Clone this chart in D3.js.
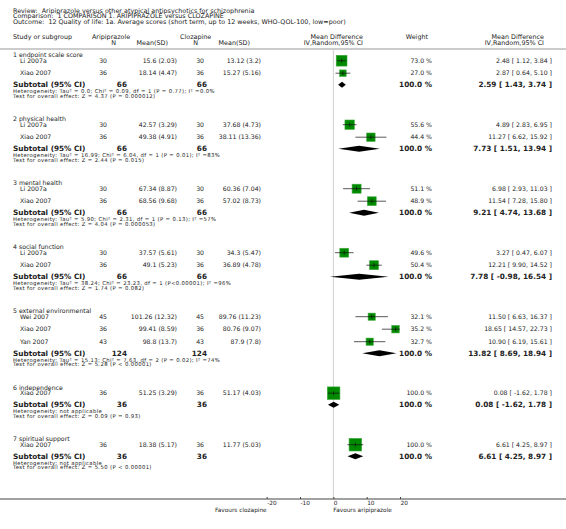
<!DOCTYPE html>
<html><head><meta charset="utf-8">
<script src="https://cdn.jsdelivr.net/npm/d3@7"></script>
<style>
body{margin:0;background:#fff}
svg{display:block}
text{font-family:"DejaVu Sans",Verdana,sans-serif;fill:#222;white-space:pre}
</style>
</head><body><svg id="c" width="566" height="529"></svg>
<script>
// ---------- DATA ----------
const headerLines = [
  "Review:  Aripiprazole versus other atypical antipsychotics for schizophrenia",
  "Comparison:  1 COMPARISON 1. ARIPIPRAZOLE versus CLOZAPINE",
  "Outcome:  12 Quality of life: 1a. Average scores (short term, up to 12 weeks, WHO-QOL-100, low=poor)"
];
const subgroupTitles = ["1 endpoint scale score","2 physical health","3 mental health","4 social function","5 external environmental","6 independence","7 spiritual support"];
const studyGroup = [0,0,1,1,2,2,3,3,4,4,4,5,6];
const studyNames = ["Li 2007a","Xiao 2007","Li 2007a","Xiao 2007","Li 2007a","Xiao 2007","Li 2007a","Xiao 2007","Wei 2007","Xiao 2007","Yan 2007","Xiao 2007","Xiao 2007"];
const ariN = [30,36,30,36,30,36,30,36,45,36,43,36,36];
const ariMeanSD = ["15.6 (2.03)","18.14 (4.47)","42.57 (3.29)","49.38 (4.91)","67.34 (8.87)","68.56 (9.68)","37.57 (5.61)","49.1 (5.23)","101.26 (12.32)","99.41 (8.59)","98.8 (13.7)","51.25 (3.29)","18.38 (5.17)"];
const cloN = [30,36,30,36,30,36,30,36,45,36,43,36,36];
const cloMeanSD = ["13.12 (3.2)","15.27 (5.16)","37.68 (4.73)","38.11 (13.36)","60.36 (7.04)","57.02 (8.73)","34.3 (5.47)","36.89 (4.78)","89.76 (11.23)","80.76 (9.07)","87.9 (7.8)","51.17 (4.03)","11.77 (5.03)"];
const studyWeight = [73.0,27.0,55.6,44.4,51.1,48.9,49.6,50.4,32.1,35.2,32.7,100.0,100.0];
const studyMD = [2.48,2.87,4.89,11.27,6.98,11.54,3.27,12.21,11.50,18.65,10.90,0.08,6.61];
const studyLo = [1.12,0.64,2.83,6.62,2.93,7.28,0.47,9.90,6.63,14.57,6.19,-1.62,4.25];
const studyHi = [3.84,5.10,6.95,15.92,11.03,15.80,6.07,14.52,16.37,22.73,15.61,1.78,8.97];
const subAriN = [66,66,66,66,124,36,36];
const subCloN = [66,66,66,66,124,36,36];
const subMD = [2.59,7.73,9.21,7.78,13.82,0.08,6.61];
const subLo = [1.43,1.51,4.74,-0.98,8.69,-1.62,4.25];
const subHi = [3.74,13.94,13.68,16.54,18.94,1.78,8.97];
const hetTexts = [
  "Heterogeneity: Tau² = 0.0; Chi² = 0.09, df = 1 (P = 0.77); I² =0.0%",
  "Heterogeneity: Tau² = 16.99; Chi² = 6.04, df = 1 (P = 0.01); I² =83%",
  "Heterogeneity: Tau² = 5.90; Chi² = 2.31, df = 1 (P = 0.13); I² =57%",
  "Heterogeneity: Tau² = 38.24; Chi² = 23.23, df = 1 (P<0.00001); I² =96%",
  "Heterogeneity: Tau² = 15.13; Chi² = 7.63, df = 2 (P = 0.02); I² =74%",
  "Heterogeneity: not applicable",
  "Heterogeneity: not applicable"
];
const testTexts = [
  "Test for overall effect: Z = 4.37 (P = 0.000012)",
  "Test for overall effect: Z = 2.44 (P = 0.015)",
  "Test for overall effect: Z = 4.04 (P = 0.000053)",
  "Test for overall effect: Z = 1.74 (P = 0.082)",
  "Test for overall effect: Z = 5.28 (P < 0.00001)",
  "Test for overall effect: Z = 0.09 (P = 0.93)",
  "Test for overall effect: Z = 5.50 (P < 0.00001)"
];
const axisTicks = [-20,-10,0,10,20];
const axisDomain = [-20,20];
const favourLeft = "Favours clozapine";
const favourRight = "Favours aripiprazole";

// ---------- LAYOUT ----------
const svg = d3.select("#c");
const W = 566;
const x = d3.scaleLinear().domain(axisDomain).range([266.7, 400]);
const FS = 6.2, FSsmall = 5.3, FSbold = 7.3, FShead = 6.4, FStick = 5.8;
const col = {name:13, study:20, aN:107, aM:177, cN:204, cM:261, wt:432, md:552, subAN:127, subCN:207};

function txt(xp, y, s, opt={}) {
  const t = svg.append("text").attr("x", xp).attr("y", y).attr("dy","0.35em")
    .attr("font-size", opt.fs || FS)
    .attr("font-weight", opt.bold ? "bold" : null)
    .attr("text-anchor", opt.anchor || "start")
    .text(s);
  if (opt.ls) t.attr("letter-spacing", opt.ls);
  return t;
}

// header
const hy = [10.3, 16.2, 22.1];
headerLines.forEach((s,i)=>txt(col.name, hy[i], s, {fs:FShead}));
txt(col.name, 36.5, "Study or subgroup", {fs:FShead});
txt(92, 36.3, "Aripiprazole", {fs:FShead});
txt(116, 42.7, "N", {fs:FShead, anchor:"end"});
txt(168, 42.7, "Mean(SD)", {fs:FShead, anchor:"end"});
txt(180, 36.3, "Clozapine", {fs:FShead});
txt(198, 42.7, "N", {fs:FShead, anchor:"end"});
txt(250, 42.7, "Mean(SD)", {fs:FShead, anchor:"end"});
txt(363, 36.3, "Mean Difference", {fs:FShead, anchor:"end"});
txt(363, 42.7, "IV,Random,95% CI", {fs:FShead, anchor:"end"});
txt(428, 36.5, "Weight", {fs:FShead, anchor:"end"});
txt(544, 36.3, "Mean Difference", {fs:FShead, anchor:"end"});
txt(544, 42.7, "IV,Random,95% CI", {fs:FShead, anchor:"end"});

// compute row positions
let y = 55;
const titleY=[], studyY=[], subY=[], hetY=[], testY=[];
subgroupTitles.forEach((t,g)=>{
  titleY[g]=y;
  let sy = y + 5.7;
  const idx = studyGroup.map((gg,i)=>gg===g?i:-1).filter(i=>i>=0);
  idx.forEach((i,k)=>{ studyY[i] = sy + k*12.5; });
  const last = studyY[idx[idx.length-1]];
  subY[g] = last + 11.5;
  hetY[g] = subY[g] + 6.7;
  testY[g] = hetY[g] + 4.7;
  y = testY[g] + 22.9;
});
const axisY = 499;

// header rule and zero line
svg.append("line").attr("x1",0).attr("x2",W).attr("y1",49).attr("y2",49).attr("stroke","#999").attr("stroke-width",1);
svg.append("line").attr("x1",x(0)).attr("x2",x(0)).attr("y1",49.5).attr("y2",axisY).attr("stroke","#cfcfcf").attr("stroke-width",1);

const f2 = v => v.toFixed(2);
const ciText = (m,l,h)=>`${f2(m)} [ ${f2(l)}, ${f2(h)} ]`;
const clamp = v=>Math.max(axisDomain[0], Math.min(axisDomain[1], v));

// subgroup titles
subgroupTitles.forEach((t,g)=>txt(col.name, titleY[g], t));

// studies
studyNames.forEach((n,i)=>{
  const yy = studyY[i];
  txt(col.study, yy, n);
  txt(col.aN, yy, String(ariN[i]), {anchor:"end"});
  txt(col.aM, yy, ariMeanSD[i], {anchor:"end"});
  txt(col.cN, yy, String(cloN[i]), {anchor:"end"});
  txt(col.cM, yy, cloMeanSD[i], {anchor:"end"});
  txt(col.wt, yy, studyWeight[i].toFixed(1)+" %", {anchor:"end"});
  txt(col.md, yy, ciText(studyMD[i],studyLo[i],studyHi[i]), {anchor:"end"});
  const s = 12.6*Math.sqrt(studyWeight[i]/100);
  svg.append("rect").attr("x", x(studyMD[i])-s/2).attr("y", yy-s/2).attr("width", s).attr("height", s)
    .attr("fill","#008a00").attr("stroke","#3fa83f").attr("stroke-width",0.6);
  svg.append("line").attr("x1", x(clamp(studyLo[i]))).attr("x2", x(clamp(studyHi[i]))).attr("y1",yy).attr("y2",yy)
    .attr("stroke","#111").attr("stroke-width",0.7);
  svg.append("line").attr("x1", x(studyMD[i])).attr("x2", x(studyMD[i])).attr("y1",yy-2).attr("y2",yy+2)
    .attr("stroke","#111").attr("stroke-width",0.7);
});

// subtotals
subgroupTitles.forEach((t,g)=>{
  const yy = subY[g];
  txt(col.name, yy, "Subtotal (95% CI)", {bold:true, fs:FSbold});
  txt(col.subAN, yy, String(subAriN[g]), {bold:true, fs:FSbold, anchor:"end"});
  txt(col.subCN, yy, String(subCloN[g]), {bold:true, fs:FSbold, anchor:"end"});
  txt(col.wt, yy, "100.0 %", {bold:true, fs:FSbold, anchor:"end"});
  txt(col.md, yy, ciText(subMD[g],subLo[g],subHi[g]), {bold:true, fs:FSbold, anchor:"end"});
  const h = 3;
  const pts = [[x(subLo[g]),yy],[x(subMD[g]),yy-h],[x(subHi[g]),yy],[x(subMD[g]),yy+h]];
  svg.append("path").attr("d", d3.line()(pts)+"Z").attr("fill","#000");
  txt(col.name, hetY[g], hetTexts[g], {fs:FSsmall, ls:0.37});
  txt(col.name, testY[g], testTexts[g], {fs:FSsmall, ls:0.37});
});

// axis
svg.append("line").attr("x1",0).attr("x2",W).attr("y1",axisY).attr("y2",axisY).attr("stroke","#444").attr("stroke-width",1);
const ax = svg.append("g").attr("transform",`translate(0,${axisY})`)
  .call(d3.axisBottom(x).tickValues(axisTicks).tickSize(-2).tickPadding(0).tickFormat(d=>String(d)));
ax.select(".domain").remove();
ax.selectAll(".tick line").attr("stroke","#444");
ax.selectAll(".tick text").attr("text-anchor","start").attr("y",3.5).attr("dy","0.35em")
  .attr("font-size",FStick).attr("font-family","DejaVu Sans, Verdana, sans-serif").attr("fill","#222");
txt(x(axisDomain[0]), 510, favourLeft, {fs:FStick, anchor:"end"});
txt(x(0), 510, favourRight, {fs:FStick});
</script></body></html>
